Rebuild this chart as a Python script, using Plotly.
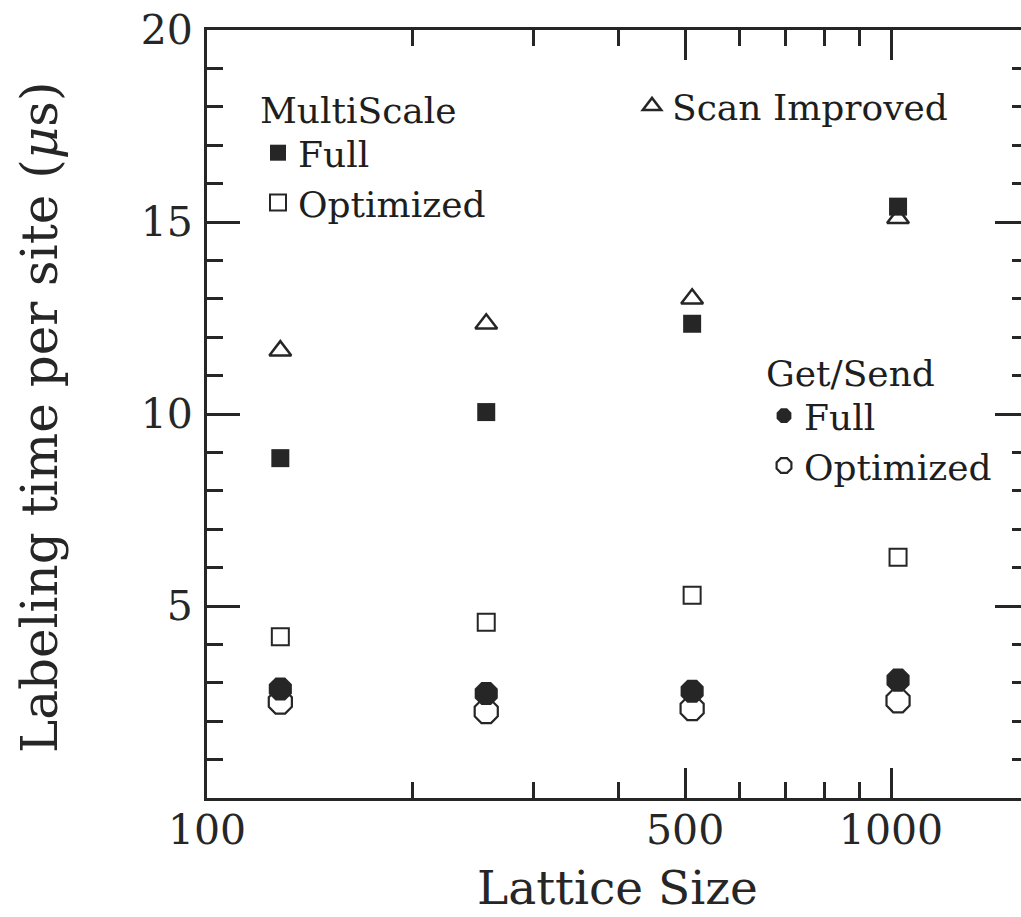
import numpy as np
import plotly.graph_objects as go

# Lattice sizes (linear extent L of an L x L lattice)
lattice_size = [128, 256, 512, 1024]

# Labeling time per site in microseconds
multiscale_full = [8.85, 10.05, 12.35, 15.4]
multiscale_optimized = [4.2, 4.58, 5.28, 6.27]
scan_improved = [11.65, 12.35, 13.0, 15.1]
getsend_full = [2.84, 2.72, 2.78, 3.07]
getsend_optimized = [2.5, 2.25, 2.33, 2.53]

x_major = [100, 500, 1000]
x_major_text = ["100", "500", "1000"]
x_minor = [200, 300, 400, 600, 700, 800, 900]
y_major = [5, 10, 15, 20]
y_minor = [v for v in range(1, 20) if v % 5]

ink = "#262626"
serif = "DejaVu Serif"

W, H = 1021, 917
L_M, R_M, T_M, B_M = 207, 0, 30, 119

fig = go.Figure()

fig.add_trace(go.Scatter(
    x=lattice_size, y=scan_improved, mode="markers", name="Scan Improved",
    legend="legend2",
    marker=dict(symbol="triangle-up-open", size=19, color=ink,
                line=dict(width=2.5, color=ink)),
))
fig.add_trace(go.Scatter(
    x=lattice_size, y=multiscale_full, mode="markers", name="Full",
    legend="legend", legendrank=1,
    marker=dict(symbol="square", size=18, color=ink, line=dict(width=0)),
))
fig.add_trace(go.Scatter(
    x=lattice_size, y=multiscale_optimized, mode="markers", name="Optimized",
    legend="legend", legendrank=2,
    marker=dict(symbol="square-open", size=17, color=ink,
                line=dict(width=2, color=ink)),
))
fig.add_trace(go.Scatter(
    x=lattice_size, y=getsend_optimized, mode="markers", name="Optimized",
    legend="legend3", legendrank=2,
    marker=dict(symbol="octagon-open", size=25, color=ink,
                line=dict(width=2.2, color=ink)),
))
fig.add_trace(go.Scatter(
    x=lattice_size, y=getsend_full, mode="markers", name="Full",
    legend="legend3", legendrank=1,
    marker=dict(symbol="octagon", size=25, color=ink, line=dict(width=0)),
))
# empty trace that carries the right-hand tick axis
fig.add_trace(go.Scatter(x=[], y=[], yaxis="y2", showlegend=False,
                         hoverinfo="skip"))

x_lo = 2.0
x_hi = 2.0 + (W - L_M) / 684.0

leg_font = dict(family=serif, size=36, color="#1e1e1e")


def px_x(p):
    return (p - L_M) / (W - L_M)


def px_y(p):
    return (H - B_M - p) / (H - B_M - T_M)


fig.update_layout(
    width=W, height=H,
    margin=dict(l=L_M, r=R_M, t=T_M, b=B_M, pad=0),
    paper_bgcolor="white", plot_bgcolor="white",
    font=dict(family=serif, color=ink),
    xaxis=dict(
        type="log", range=[x_lo, x_hi],
        showgrid=False, zeroline=False,
        showline=True, linecolor=ink, linewidth=2.8, mirror="ticks",
        ticks="inside", ticklen=30, tickwidth=2.6, tickcolor=ink,
        tickmode="array", tickvals=x_major, ticktext=x_major_text,
        tickfont=dict(family=serif, size=41, color=ink),
        ticklabelstandoff=-6,
        minor=dict(tickmode="array", tickvals=x_minor, ticks="inside",
                   ticklen=16, tickwidth=2.6, tickcolor=ink, showgrid=False),
    ),
    yaxis=dict(
        range=[0, 20],
        showgrid=False, zeroline=False,
        showline=True, linecolor=ink, linewidth=2.8, mirror=False,
        ticks="inside", ticklen=33, tickwidth=2.6, tickcolor=ink,
        tickmode="array", tickvals=y_major,
        tickfont=dict(family=serif, size=41, color=ink),
        ticklabelstandoff=3,
        minor=dict(tickmode="array", tickvals=y_minor, ticks="inside",
                   ticklen=16, tickwidth=2.6, tickcolor=ink, showgrid=False),
    ),
    yaxis2=dict(
        overlaying="y", side="right", anchor="x", matches="y",
        range=[0, 20], showgrid=False, zeroline=False, showline=False,
        ticks="inside", ticklen=26, tickwidth=2.6, tickcolor=ink,
        tickmode="array", tickvals=y_major, showticklabels=False,
        minor=dict(tickmode="array", tickvals=y_minor, ticks="inside",
                   ticklen=9, tickwidth=2.6, tickcolor=ink, showgrid=False),
    ),
    legend=dict(
        x=px_x(258), y=px_y(76),
        xanchor="left", yanchor="top", bgcolor="rgba(0,0,0,0)",
        font=leg_font, title=dict(text="MultiScale", font=leg_font),
        tracegroupgap=0, itemclick=False, itemdoubleclick=False,
    ),
    legend2=dict(
        x=px_x(632), y=px_y(76),
        xanchor="left", yanchor="top", bgcolor="rgba(0,0,0,0)",
        font=leg_font, tracegroupgap=0,
        itemclick=False, itemdoubleclick=False,
    ),
    legend3=dict(
        x=px_x(764), y=px_y(339),
        xanchor="left", yanchor="top", bgcolor="rgba(0,0,0,0)",
        font=leg_font, title=dict(text="Get/Send", font=leg_font),
        tracegroupgap=0, itemclick=False, itemdoubleclick=False,
    ),
    annotations=[
        dict(text="Lattice Size", xref="paper", yref="paper",
             x=px_x(617), y=px_y(917),
             xanchor="center", yanchor="bottom", showarrow=False,
             font=dict(family=serif, size=47, color=ink)),
        dict(text="Labeling time per site (<i>\u03bc</i>s)",
             xref="paper", yref="paper",
             x=px_x(40), y=px_y(418), textangle=-90,
             xanchor="center", yanchor="middle", showarrow=False,
             font=dict(family=serif, size=50, color=ink)),
    ],
)

fig.write_html("out.html")
